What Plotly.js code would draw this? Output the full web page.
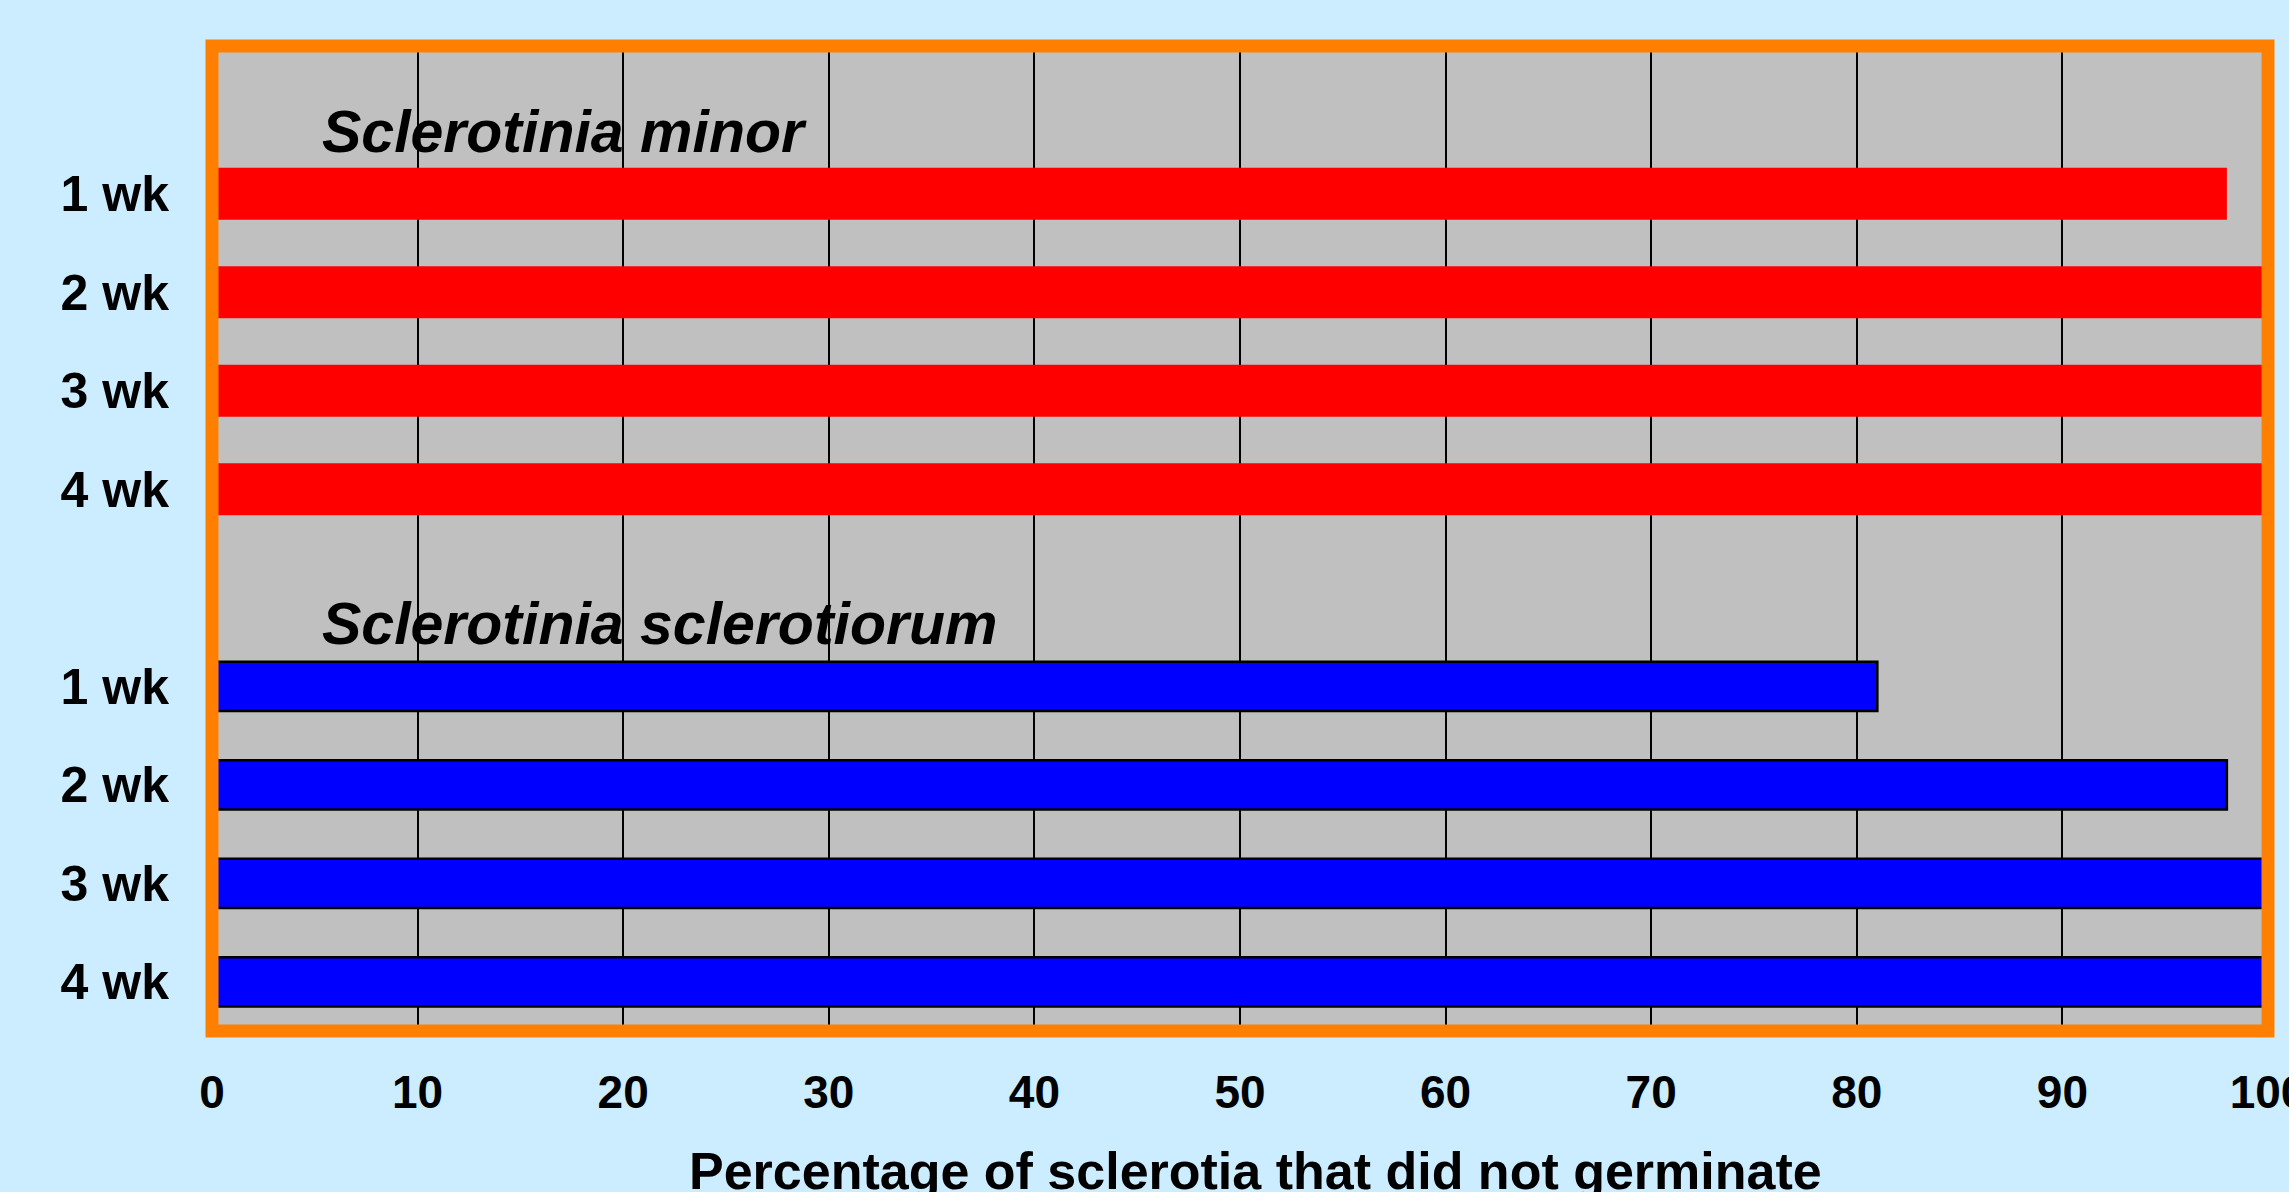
<!DOCTYPE html>
<html>
<head>
<meta charset="utf-8">
<script src="https://cdn.plot.ly/plotly-3.0.1.min.js"></script>
<style>
  html, body { margin: 0; padding: 0; background: #CCECFF; }
  #chart { width: 2289px; height: 1192px; }
</style>
</head>
<body>
<div id="chart"></div>
<script>
// ---- data ----
const weeks = ["1 wk", "2 wk", "3 wk", "4 wk"];
const groupNames = ["Sclerotinia minor", "Sclerotinia sclerotiorum"];
const minorValues = [98, 100, 100, 100];
const sclerotiorumValues = [81, 98, 100, 100];
const xTickValues = [0, 10, 20, 30, 40, 50, 60, 70, 80, 90, 100];
const xTitle = "Percentage of sclerotia that did not germinate";

// slot layout: one empty slot above each group (holds the group label)
const minorStart = 1;
const sclerStart = minorStart + weeks.length + 1;
const minorY = weeks.map((_, i) => minorStart + i);
const sclerY = weeks.map((_, i) => sclerStart + i);
const totalSlots = sclerStart + weeks.length;

const fontFamily = "Liberation Sans, Arial, sans-serif";

const traces = [
  {
    type: "bar",
    orientation: "h",
    x: minorValues,
    y: minorY,
    width: 0.53,
    marker: { color: "#FF0000", line: { width: 0 } },
    name: groupNames[0],
    showlegend: false
  },
  {
    type: "bar",
    orientation: "h",
    x: sclerotiorumValues,
    y: sclerY,
    width: 0.5,
    marker: { color: "#0000FF", line: { color: "#000000", width: 2.5 } },
    name: groupNames[1],
    showlegend: false
  }
];

const layout = {
  width: 2289,
  height: 1192,
  margin: { l: 212, r: 21, t: 46, b: 161, pad: 0 },
  paper_bgcolor: "#CCECFF",
  plot_bgcolor: "#C0C0C0",
  barmode: "overlay",
  xaxis: {
    range: [0, 100],
    tickvals: xTickValues,
    ticktext: xTickValues.map(String),
    showgrid: true,
    gridcolor: "#000000",
    gridwidth: 2,
    zeroline: false,
    showline: false,
    ticks: "",
    ticklabelstandoff: 30,
    ticklabeloverflow: "allow",
    tickfont: { family: fontFamily, size: 46, color: "#000000", weight: "bold" },
    fixedrange: true
  },
  yaxis: {
    range: [totalSlots - 0.5, -0.5],
    tickvals: minorY.concat(sclerY),
    ticktext: weeks.concat(weeks),
    showgrid: false,
    zeroline: false,
    showline: false,
    ticks: "",
    ticklabelstandoff: 42,
    tickfont: { family: fontFamily, size: 50, color: "#000000", weight: "bold" },
    fixedrange: true
  },
  annotations: [
    {
      text: groupNames[0],
      x: 5.25, y: minorStart - 0.63,
      xref: "x", yref: "y",
      xanchor: "left", yanchor: "middle",
      showarrow: false,
      font: { family: fontFamily, size: 59, color: "#000000", weight: "bold", style: "italic" }
    },
    {
      text: groupNames[1],
      x: 5.25, y: sclerStart - 0.63,
      xref: "x", yref: "y",
      xanchor: "left", yanchor: "middle",
      showarrow: false,
      font: { family: fontFamily, size: 59, color: "#000000", weight: "bold", style: "italic" }
    },
    {
      // x-axis title (runs off the bottom edge, as in the reference)
      text: xTitle,
      x: 0.5075, y: -0.111,
      xref: "paper", yref: "paper",
      xanchor: "center", yanchor: "top",
      showarrow: false,
      font: { family: fontFamily, size: 52, color: "#000000", weight: "bold" }
    }
  ],
  shapes: [
    {
      type: "rect",
      xref: "paper", yref: "paper",
      x0: 0, x1: 1, y0: 0, y1: 1,
      line: { color: "#FF8000", width: 13 },
      fillcolor: "rgba(0,0,0,0)",
      layer: "above"
    }
  ]
};

Plotly.newPlot("chart", traces, layout, { staticPlot: true, displayModeBar: false });
</script>
</body>
</html>
